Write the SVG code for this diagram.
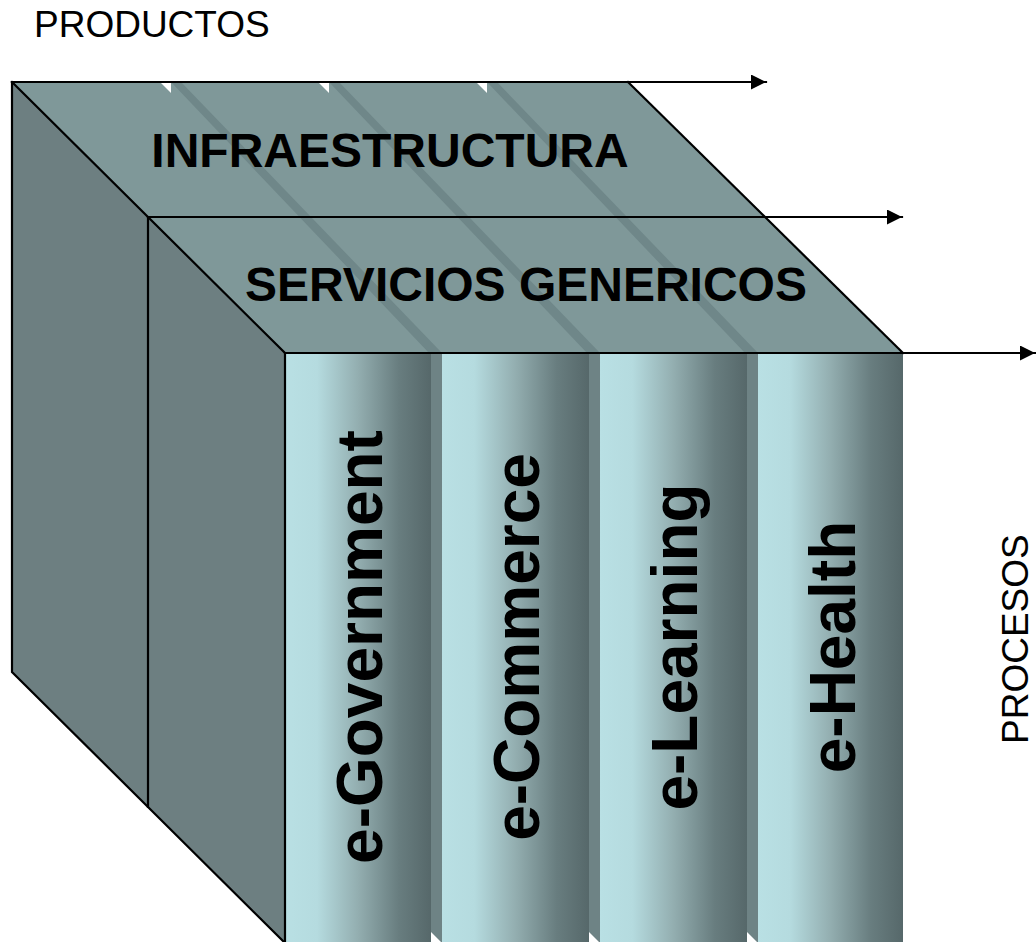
<svg xmlns="http://www.w3.org/2000/svg" width="1036" height="942" viewBox="0 0 1036 942">
<defs>
<style>
.edge{stroke:#000;stroke-width:2.2;fill:none;stroke-linecap:square}
.top{fill:#7f9899}
.side{fill:#6d7f81}
.stripe{fill:#6f8789}
.div{fill:#6e8385}
.notch{fill:#fff}
.t{font-family:"Liberation Sans",Arial,sans-serif;fill:#000}
.b{font-weight:bold;font-size:48px;text-anchor:middle}
.v{font-weight:bold;font-size:64px;text-anchor:middle}
.n{font-size:37px}
</style>
<linearGradient id="col" x1="0" y1="0" x2="1" y2="0">
<stop offset="0" stop-color="#b9e0e4"/>
<stop offset="0.22" stop-color="#b5dbdf"/>
<stop offset="0.5" stop-color="#93aeb0"/>
<stop offset="0.78" stop-color="#687d7f"/>
<stop offset="1" stop-color="#56686a"/>
</linearGradient>
<marker id="ah" markerUnits="userSpaceOnUse" markerWidth="16" markerHeight="16" refX="15" refY="7.5" orient="auto">
<path d="M0,0 L15,7.5 L0,15 Z" fill="#000"/>
</marker>
</defs>

<g id="infraestructura">
<polygon class="top" points="12,82 628,82 766,217 148,217"/>
<polygon class="side" points="12,82 148,217 148,807 12,672"/>
</g>
<g id="servicios-genericos">
<polygon class="top" points="148,217 766,217 903,353 285,353"/>
<polygon class="side" points="148,217 285,353 285,943 148,807"/>
</g>
<g id="stripes">
<polygon class="stripe" points="171,82 181,82 442,353 429,353"/>
<polygon class="stripe" points="329,82 339,82 600,353 587,353"/>
<polygon class="stripe" points="487,82 497,82 758,353 745,353"/>
<polygon class="notch" points="160,82 171,82 171,93"/>
<polygon class="notch" points="318,82 329,82 329,93"/>
<polygon class="notch" points="476,82 487,82 487,93"/>
</g>

<g id="e-government">
<rect x="285" y="353" width="146" height="590" fill="url(#col)"/>
<rect class="div" x="431" y="353" width="11" height="590"/>
<polygon class="notch" points="431,932 442,943 431,943"/>
<text class="t v" transform="translate(382,647) rotate(-90)">e-Government</text>
</g>
<g id="e-commerce">
<rect x="442" y="353" width="147" height="590" fill="url(#col)"/>
<rect class="div" x="589" y="353" width="11" height="590"/>
<polygon class="notch" points="589,932 600,943 589,943"/>
<text class="t v" transform="translate(539,647) rotate(-90)">e-Commerce</text>
</g>
<g id="e-learning">
<rect x="600" y="353" width="147" height="590" fill="url(#col)"/>
<rect class="div" x="747" y="353" width="11" height="590"/>
<polygon class="notch" points="747,932 758,943 747,943"/>
<text class="t v" transform="translate(697,647) rotate(-90)">e-Learning</text>
</g>
<g id="e-health">
<rect x="758" y="353" width="145" height="590" fill="url(#col)"/>
<text class="t v" transform="translate(855,647) rotate(-90)">e-Health</text>
</g>

<g id="edges">
<path class="edge" d="M12,82 L12,672 L285,943"/>
<path class="edge" d="M12,82 L285,353 L285,943"/>
<path class="edge" d="M148,217 L148,807"/>
<path class="edge" d="M628,82 L903,353"/>
</g>

<g id="connectors">
<line class="edge" x1="12" y1="82" x2="766" y2="82" marker-end="url(#ah)"/>
<line class="edge" x1="148" y1="217" x2="902" y2="217" marker-end="url(#ah)"/>
<line class="edge" x1="285" y1="353" x2="1035" y2="353" marker-end="url(#ah)"/>
</g>

<g id="labels">
<text class="t b" x="390" y="167">INFRAESTRUCTURA</text>
<text class="t b" x="526" y="301">SERVICIOS GENERICOS</text>
<text class="t n" x="34" y="37">PRODUCTOS</text>
<text class="t n" transform="translate(1028,744) rotate(-90)">PROCESOS</text>
</g>
</svg>
